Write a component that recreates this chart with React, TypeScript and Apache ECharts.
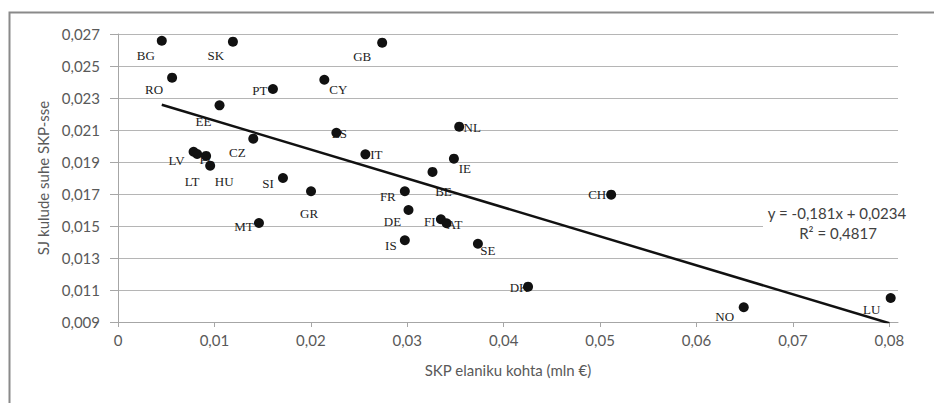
import React, { useEffect, useRef } from "react";
import * as echarts from "echarts";

const countries = ["BG","SK","GB","RO","PT","CY","EE","ES","CZ","IT","LV","LT","PL","HU","SI","GR","MT","FR","DE","IS","BE","IE","NL","FI","AT","SE","DK","CH","NO","LU"];
const gdpPerCapita = [0.00454,0.01192,0.0274,0.00561,0.01607,0.0214,0.01053,0.02265,0.01403,0.02566,0.00784,0.00821,0.00914,0.00956,0.01711,0.02002,0.01462,0.02975,0.03013,0.02975,0.03262,0.03484,0.03539,0.03349,0.03408,0.03733,0.04253,0.05115,0.0649,0.08014];
const expenseRatio = [0.02658,0.02652,0.02646,0.02427,0.02356,0.02414,0.02254,0.02083,0.02046,0.01948,0.01964,0.0195,0.01938,0.01877,0.0180,0.01717,0.01519,0.01717,0.0160,0.01411,0.01838,0.01921,0.02121,0.01542,0.01517,0.01389,0.01121,0.01696,0.00992,0.0105];
const xTicks = [0, 0.01, 0.02, 0.03, 0.04, 0.05, 0.06, 0.07, 0.08];
const trendSlope = -0.181;
const trendIntercept = 0.0234;
const trendXRange = [0.00454, 0.08];
const equationLines = ["y = -0,181x + 0,0234", "R² = 0,4817"];

// label placement relative to each point (pixels), styling only
const labelOffsets: Record<string, [number, number]> = {
  BG: [-16, 15], SK: [-17, 14], GB: [-20, 14], RO: [-18, 12], PT: [-13, 1], CY: [14, 10],
  EE: [-16, 16], ES: [3, 1], CZ: [-16, 14], IT: [11, 0], LV: [-17, 9], LT: [-5, 27],
  PL: [1, 4], HU: [14, 16], SI: [-15, 5], GR: [-2, 22], MT: [-15, 4], FR: [-17, 5],
  DE: [-16, 11], IS: [-14, 5], BE: [11, 20], IE: [11, 10], NL: [13, 1], FI: [-11, 2],
  AT: [8, 1], SE: [10, 7], DK: [-9, 1], CH: [-14, 0], NO: [-19, 9], LU: [-19, 11],
};

const fmt = (v: number, d: number) => (v === 0 ? "0" : v.toFixed(d).replace(".", ","));
const SANS = "Lato, 'Open Sans', sans-serif";

export default function App() {
  const ref = useRef<HTMLDivElement>(null);
  useEffect(() => {
    if (!ref.current) return;
    const chart = echarts.init(ref.current, null, { renderer: "svg" });
    const points = countries.map((c, i) => ({ name: c, value: [gdpPerCapita[i], expenseRatio[i]] }));
    const labelPoints = countries.map((c, i) => ({
      name: c,
      value: [gdpPerCapita[i], expenseRatio[i]],
      label: { offset: labelOffsets[c] || [0, 0] },
    }));
    const trend = trendXRange.map((x) => [x, trendSlope * x + trendIntercept]);
    chart.setOption({
      animation: false,
      backgroundColor: "#ffffff",
      grid: { left: 118, right: 36, top: 34, bottom: 81, containLabel: false },
      xAxis: {
        type: "value",
        min: 0,
        max: 0.0809,
        name: "SKP elaniku kohta (mln €)",
        nameLocation: "middle",
        nameGap: 40,
        nameTextStyle: { fontFamily: SANS, fontSize: 15, color: "#595959" },
        axisLine: { show: true, onZero: false, lineStyle: { color: "#a6a6a6", width: 1 } },
        axisTick: { show: true, length: 5, customValues: xTicks, lineStyle: { color: "#a6a6a6" } },
        axisLabel: {
          customValues: xTicks,
          margin: 10,
          fontFamily: SANS,
          fontSize: 15,
          color: "#595959",
          formatter: (v: number) => fmt(v, 2),
        },
        splitLine: { show: false },
      },
      yAxis: {
        type: "value",
        min: 0.009,
        max: 0.027,
        interval: 0.002,
        name: "SJ kulude suhe SKP-sse",
        nameLocation: "middle",
        nameGap: 66,
        nameTextStyle: { fontFamily: SANS, fontSize: 15, color: "#595959" },
        axisLine: { show: true, lineStyle: { color: "#a6a6a6", width: 1 } },
        axisTick: { show: true, length: 8, lineStyle: { color: "#a6a6a6" } },
        axisLabel: {
          margin: 18,
          fontFamily: SANS,
          fontSize: 15,
          color: "#595959",
          formatter: (v: number) => fmt(v, 3),
        },
        splitLine: { show: true, lineStyle: { color: "#b5b5b5", width: 1 } },
      },
      series: [
        {
          name: "labels",
          type: "scatter",
          z: 1,
          symbol: "circle",
          symbolSize: 1,
          itemStyle: { color: "rgba(0,0,0,0)", opacity: 1 },
          label: {
            show: true,
            position: "inside",
            formatter: "{b}",
            fontFamily: "'Liberation Serif', 'DejaVu Serif', serif",
            fontSize: 13,
            color: "#222222",
          },
          data: labelPoints,
          silent: true,
        },
        {
          name: "trend",
          type: "line",
          z: 2,
          symbol: "none",
          lineStyle: { color: "#111111", width: 2.5 },
          data: trend,
          clip: true,
        },
        {
          name: "points",
          type: "scatter",
          z: 3,
          symbol: "circle",
          symbolSize: 10,
          itemStyle: { color: "#111111", opacity: 1 },
          data: points,
        },
      ],
      graphic: [
        {
          type: "rect",
          left: 7,
          top: 10,
          shape: { width: 1000, height: 500 },
          style: { fill: "none", stroke: "#8a8a8a", lineWidth: 2 },
          silent: true,
          z: 0,
        },
        {
          type: "rect",
          shape: { x: 763, y: 202, width: 145, height: 42 },
          style: { fill: "#ffffff" },
          z: 10,
        },
        {
          type: "text",
          x: 837,
          y: 213,
          style: {
            text: equationLines[0],
            fontFamily: SANS,
            fontSize: 15,
            fill: "#404040",
            align: "center",
            verticalAlign: "middle",
          },
          z: 11,
        },
        {
          type: "text",
          x: 838,
          y: 233,
          style: {
            text: equationLines[1],
            fontFamily: SANS,
            fontSize: 15,
            fill: "#404040",
            align: "center",
            verticalAlign: "middle",
          },
          z: 11,
        },
      ],
    });
    return () => chart.dispose();
  }, []);
  return (
    <div
      ref={ref}
      style={{ position: "fixed", left: 0, top: 0, width: 934, height: 403, background: "#fff" }}
    />
  );
}
